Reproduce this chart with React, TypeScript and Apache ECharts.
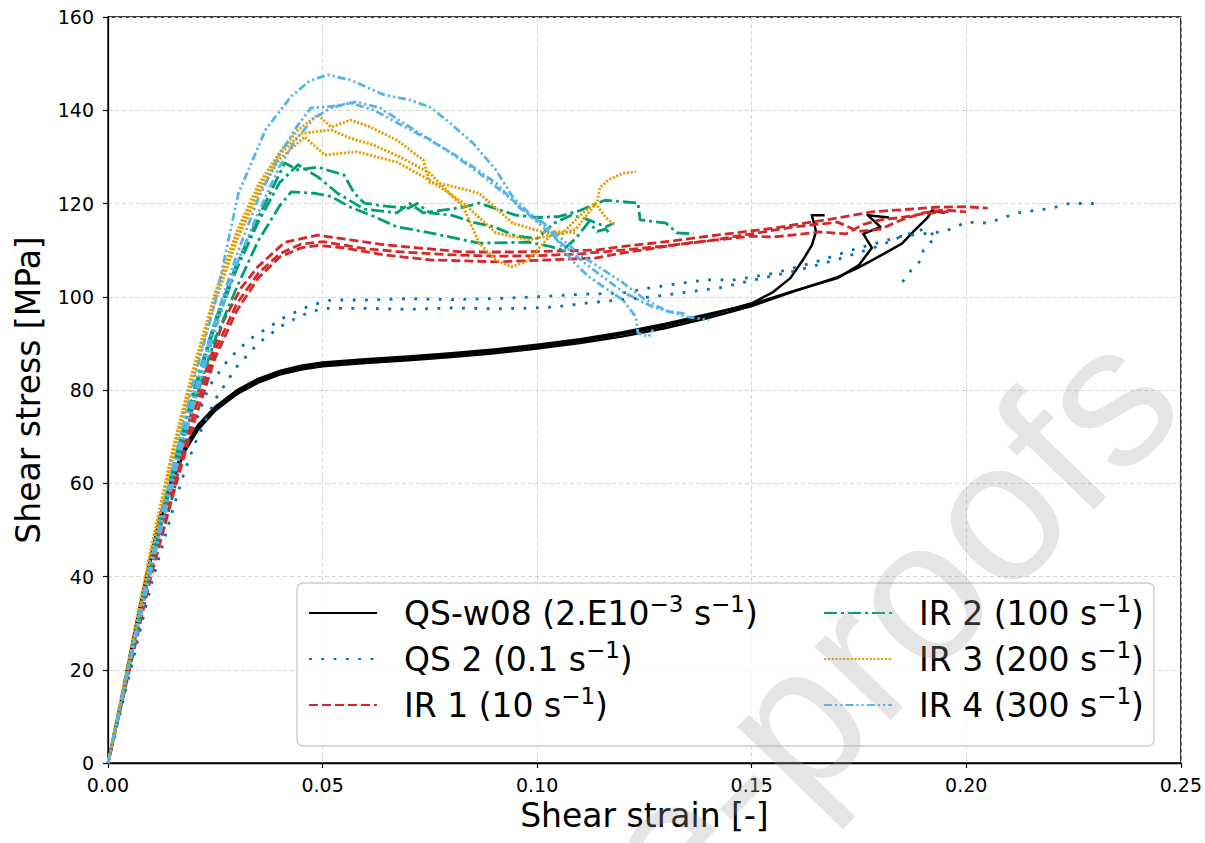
import React, { useEffect, useRef } from "react";
import * as echarts from "echarts";

// ---------- data ----------
const xTicks = [0, 0.05, 0.1, 0.15, 0.2, 0.25];
const yTicks = [0, 20, 40, 60, 80, 100, 120, 140, 160];

const NAME_QSW08 = "QS-w08 (2.E10^-3 s^-1)";
const NAME_QS2 = "QS 2 (0.1 s^-1)";
const NAME_IR1 = "IR 1 (10 s^-1)";
const NAME_IR2 = "IR 2 (100 s^-1)";
const NAME_IR3 = "IR 3 (200 s^-1)";
const NAME_IR4 = "IR 4 (300 s^-1)";

// QS-w08 (black, solid)
const qsW08_a = [[0,0],[0.003,13],[0.006,27],[0.009,40],[0.012,52],[0.015,61],[0.018,67.5],[0.021,72],[0.025,76],[0.03,79.5],[0.035,82],[0.04,83.7],[0.045,84.8],[0.05,85.5],[0.06,86.2],[0.07,86.8],[0.08,87.5],[0.09,88.3],[0.1,89.3],[0.11,90.5],[0.12,92],[0.13,93.8],[0.14,96],[0.15,98.6],[0.155,101],[0.159,104],[0.162,108],[0.164,111],[0.165,114],[0.164,117.5],[0.167,117.5]];
const qsW08_b = [[0,0],[0.003,12.8],[0.006,26.6],[0.009,39.5],[0.012,51.4],[0.015,60.5],[0.018,67],[0.021,71.5],[0.025,75.6],[0.03,79.1],[0.035,81.6],[0.04,83.3],[0.045,84.4],[0.05,85.1],[0.06,85.8],[0.07,86.4],[0.08,87.1],[0.09,87.9],[0.1,88.9],[0.11,90.1],[0.12,91.5],[0.13,93.3],[0.14,95.5],[0.15,98],[0.16,101.2],[0.17,104.2],[0.175,106.3],[0.18,108.8],[0.185,111.4],[0.188,114.3],[0.191,117],[0.192,118.5],[0.195,118]];
const qsW08_c = [[0,0],[0.003,13.2],[0.006,27.3],[0.009,40.5],[0.012,52.5],[0.015,61.5],[0.018,68],[0.021,72.5],[0.025,76.4],[0.03,79.9],[0.035,82.4],[0.04,84.1],[0.045,85.2],[0.05,85.9],[0.06,86.6],[0.07,87.2],[0.08,87.9],[0.09,88.7],[0.1,89.7],[0.11,90.9],[0.12,92.4],[0.13,94.2],[0.14,96.3],[0.15,98.4],[0.16,101.3],[0.17,104],[0.175,106.8],[0.178,110.5],[0.176,113.5],[0.18,115],[0.177,117.5],[0.182,117]];

// QS 2 (blue, dotted)
const qs2_a = [[0,0],[0.005,20],[0.01,40],[0.015,57],[0.0173,66],[0.02,72],[0.0235,80.7],[0.028,86.5],[0.0327,90.7],[0.0413,95.7],[0.0473,98.2],[0.052,99.3],[0.06,99.3],[0.07,99.6],[0.08,99.4],[0.09,99.6],[0.1,100],[0.11,100.5],[0.12,100.8],[0.127,102],[0.139,103.6],[0.146,103.6],[0.155,105],[0.165,107.5],[0.175,110.5],[0.185,113],[0.195,114],[0.2,116],[0.205,115.8],[0.212,118],[0.22,119],[0.224,120],[0.23,120]];
const qs2_b = [[0,0],[0.005,19],[0.01,38],[0.015,54],[0.0173,61],[0.02,68],[0.025,78],[0.03,85],[0.035,90],[0.04,93.5],[0.045,96],[0.05,97.5],[0.06,97.5],[0.07,97.3],[0.08,97.6],[0.09,97.4],[0.1,97.6],[0.104,97.8],[0.112,98.7],[0.127,100],[0.143,102],[0.15,103.5],[0.16,105.5],[0.17,108],[0.18,111],[0.185,113],[0.19,114.5],[0.193,113],[0.19,110],[0.1896,108],[0.187,105.5],[0.185,103]];

// IR 1 (red, dashed)
const ir1_a = [[0,0],[0.005,21],[0.01,42],[0.015,60],[0.02,77],[0.0235,86],[0.027,95],[0.0311,102],[0.035,106.5],[0.0412,111.7],[0.0489,113.2],[0.0565,112.2],[0.064,111.2],[0.072,110.5],[0.0828,109.6],[0.095,109.6],[0.1135,110],[0.12,110.8],[0.13,111.8],[0.14,113],[0.155,114.7],[0.17,116.9],[0.178,118.2],[0.193,119.2],[0.2,119.3],[0.205,119]];
const ir1_b = [[0,0],[0.005,20],[0.01,40],[0.015,57],[0.02,73],[0.025,87],[0.03,97],[0.035,104],[0.04,108.5],[0.045,110.5],[0.0489,111],[0.055,110.5],[0.0643,109],[0.075,107.9],[0.0904,107.5],[0.1,107.8],[0.1135,108.3],[0.12,109.4],[0.135,111.5],[0.15,113],[0.155,112.8],[0.166,113.9],[0.172,113.5],[0.176,115.5],[0.18,116.5],[0.185,117],[0.19,117.8],[0.196,118.3]];
const ir1_c = [[0,0],[0.005,20.5],[0.01,41],[0.015,58.5],[0.02,75],[0.025,88.5],[0.03,98.5],[0.035,105],[0.04,109.2],[0.045,111.3],[0.05,111.8],[0.06,110.3],[0.07,109.5],[0.08,109],[0.09,108.7],[0.1,108.8],[0.11,109.2],[0.12,110],[0.13,110.9],[0.14,112],[0.15,113.5],[0.16,115],[0.17,116],[0.175,114],[0.18,114.5],[0.185,116.5],[0.19,118],[0.195,118.6],[0.2,118.2]];

// IR 2 (green, dash-dot)
const ir2_a = [[0,0],[0.005,22],[0.01,44],[0.015,63],[0.02,80],[0.025,95],[0.03,107],[0.035,117],[0.0412,128.7],[0.0443,127.2],[0.0489,127.8],[0.055,126.1],[0.0574,122.2],[0.0597,120.1],[0.064,119.5],[0.07,119],[0.072,120],[0.075,118],[0.08,117.5],[0.085,116],[0.09,115],[0.095,113],[0.1,112.5],[0.104,115.8],[0.108,117.5],[0.112,116.5],[0.116,115],[0.118,115.8]];
const ir2_b = [[0,0],[0.005,21.5],[0.01,43],[0.015,62],[0.02,79],[0.025,94],[0.03,106],[0.035,116],[0.04,124.5],[0.0443,128.3],[0.0489,125.7],[0.0535,122.2],[0.0597,118.8],[0.0673,118],[0.0703,120],[0.0735,118],[0.0828,119.2],[0.0865,120.1],[0.09,119],[0.095,117.5],[0.1,117],[0.105,117.2],[0.11,118.5],[0.1158,120.7],[0.1235,120.1],[0.124,116.5],[0.13,115.8],[0.1326,113.7],[0.1365,113.5]];
const ir2_c = [[0,0],[0.005,21],[0.01,42],[0.015,61],[0.02,77],[0.025,91],[0.03,102],[0.035,112],[0.04,119.5],[0.0427,122.5],[0.048,122.2],[0.052,121.5],[0.0565,119.2],[0.062,117.2],[0.0673,115],[0.075,113.7],[0.0865,111.5],[0.098,111.7],[0.103,110.8],[0.106,110],[0.109,112.5],[0.112,116],[0.114,114],[0.116,114.5],[0.117,113.5]];

// IR 3 (orange, dense dots)
const ir3_a = [[0,0],[0.005,23],[0.01,46],[0.015,67],[0.02,85],[0.025,101],[0.03,114],[0.035,124],[0.04,131],[0.0443,135.8],[0.0489,139],[0.052,136.4],[0.0565,137.9],[0.0611,136.4],[0.0673,133.6],[0.0735,129.3],[0.075,124.4],[0.0789,124],[0.0865,122.2],[0.0943,115.8],[0.102,113.7],[0.106,113.5],[0.109,114.5],[0.112,118],[0.114,120.3],[0.1146,123.3],[0.1165,125],[0.12,126.5],[0.123,126.8]];
const ir3_b = [[0,0],[0.005,22.5],[0.01,45],[0.015,66],[0.02,84],[0.025,100],[0.03,113],[0.035,123],[0.04,130.5],[0.045,135],[0.052,135.8],[0.0565,134],[0.062,132.5],[0.068,130],[0.075,126.5],[0.0828,119.2],[0.0865,111.5],[0.0904,107.9],[0.094,106.4],[0.0973,107.5],[0.1,110],[0.104,114],[0.109,113.7]];
const ir3_c = [[0,0],[0.005,22],[0.01,44.5],[0.015,65],[0.02,83],[0.025,99],[0.03,112],[0.035,122],[0.04,129.5],[0.0458,134.3],[0.0505,130.4],[0.058,131.1],[0.0673,128.9],[0.075,125],[0.0828,120.1],[0.0904,113.7],[0.098,112.2],[0.106,113.7],[0.1095,117],[0.1135,120.1],[0.116,117],[0.118,115.5]];

// IR 4 (sky blue, dash-dot-dot)
const ir4_a = [[0,0],[0.005,22],[0.01,43],[0.015,63],[0.02,82],[0.025,99],[0.0304,122.2],[0.0367,135.8],[0.0427,143],[0.047,146.3],[0.0512,147.6],[0.0565,146.5],[0.0643,143.3],[0.0703,142.2],[0.075,140.7],[0.0789,137.9],[0.085,133],[0.0904,127.2],[0.0943,121.4],[0.098,118],[0.102,115.5],[0.108,107.9],[0.112,104.3],[0.12,99.3],[0.123,95.7],[0.1235,92.2],[0.126,91.4],[0.127,92.9]];
const ir4_b = [[0,0],[0.005,21],[0.01,42],[0.015,61],[0.02,79],[0.025,95],[0.03,109],[0.035,121],[0.04,130.5],[0.044,136.5],[0.0473,140.5],[0.052,140.8],[0.058,141.8],[0.0634,140.5],[0.0703,136.4],[0.0789,131.5],[0.0865,126.5],[0.0943,120.7],[0.1,116],[0.105,112],[0.11,108],[0.115,104.5],[0.12,101],[0.127,97.8],[0.135,95.7],[0.14,95]];
const ir4_c = [[0,0],[0.005,21],[0.01,41],[0.015,60],[0.02,77],[0.025,93],[0.03,107],[0.035,118],[0.04,128],[0.044,134],[0.048,138.3],[0.052,140.5],[0.0565,141.6],[0.062,140],[0.068,137],[0.075,133.6],[0.0828,129.3],[0.0904,124.4],[0.096,119],[0.1,116.5],[0.105,113],[0.11,109],[0.115,106],[0.12,103],[0.125,99.5],[0.13,97],[0.135,96.3]];

// ---------- styling ----------
const FONT = '"DejaVu Sans", sans-serif';

const groups = [
  { name: NAME_QSW08, color: "#000000", width: 2.5, dash: "solid" as any, curves: [qsW08_a, qsW08_b, qsW08_c] },
  { name: NAME_QS2, color: "#0072B2", width: 2.8, dash: [2.8, 9.5], curves: [qs2_a, qs2_b] },
  { name: NAME_IR1, color: "#D62728", width: 2.8, dash: [9, 4], curves: [ir1_a, ir1_b, ir1_c] },
  { name: NAME_IR2, color: "#009E73", width: 2.8, dash: [13, 4, 3, 4], curves: [ir2_a, ir2_b, ir2_c] },
  { name: NAME_IR3, color: "#E69F00", width: 2.8, dash: [2.2, 1.6], curves: [ir3_a, ir3_b, ir3_c] },
  { name: NAME_IR4, color: "#56B4E9", width: 2.8, dash: [8, 3, 2.2, 3, 2.2, 3], curves: [ir4_a, ir4_b, ir4_c] },
];

const legendRich: Record<string, string> = {
  [NAME_QSW08]: "{n|QS-w08 (2.E10}{s|\u22123}{n| s}{s|\u22121}{n|)}",
  [NAME_QS2]: "{n|QS 2 (0.1 s}{s|\u22121}{n|)}",
  [NAME_IR1]: "{n|IR 1 (10 s}{s|\u22121}{n|)}",
  [NAME_IR2]: "{n|IR 2 (100 s}{s|\u22121}{n|)}",
  [NAME_IR3]: "{n|IR 3 (200 s}{s|\u22121}{n|)}",
  [NAME_IR4]: "{n|IR 4 (300 s}{s|\u22121}{n|)}",
};

const legendTextStyle = {
  padding: [0, 0, 0, 22],
  rich: {
    n: { fontSize: 33, fontFamily: FONT, color: "#000", lineHeight: 42 },
    s: { fontSize: 23, fontFamily: FONT, color: "#000", lineHeight: 24, verticalAlign: "top" },
  },
};

function makeLegend(left: number, names: string[]) {
  return {
    show: true,
    orient: "vertical",
    left,
    top: 592,
    padding: 0,
    itemWidth: 68,
    itemHeight: 14,
    itemGap: 8.5,
    selectedMode: false,
    data: names,
    itemStyle: { color: "rgba(0,0,0,0)", borderWidth: 0, opacity: 0 },
    formatter: (name: string) => legendRich[name] ?? name,
    textStyle: legendTextStyle,
  };
}

export default function App() {
  const ref = useRef<HTMLDivElement>(null);

  useEffect(() => {
    if (!ref.current) return;
    const chart = echarts.init(ref.current, null, { renderer: "svg" });

    const series: any[] = [];
    groups.forEach((g, gi) => {
      g.curves.forEach((c) => {
        series.push({
          type: "line",
          name: g.name,
          data: c,
          symbol: "none",
          showSymbol: false,
          silent: true,
          z: 2 + gi * 0.01,
          lineStyle: { color: g.color, width: g.width, type: g.dash, cap: "butt", join: "round" },
          itemStyle: { color: g.color },
        });
      });
    });

    chart.setOption({
      animation: false,
      backgroundColor: "#ffffff",
      grid: {
        left: 108,
        right: 13,
        top: 17,
        bottom: 80,
        show: true,
        borderColor: "#000",
        borderWidth: 1.3,
        backgroundColor: "transparent",
      },
      xAxis: {
        type: "value",
        min: xTicks[0],
        max: xTicks[xTicks.length - 1],
        interval: 0.05,
        name: "Shear strain [-]",
        nameLocation: "middle",
        nameGap: 35,
        nameTextStyle: { fontSize: 33, fontFamily: FONT, color: "#000" },
        axisLine: { show: true, onZero: false, lineStyle: { color: "#000", width: 1.3 } },
        axisTick: { show: true, inside: false, length: 5, lineStyle: { color: "#000", width: 1.2 } },
        axisLabel: {
          margin: 12,
          fontSize: 19,
          fontFamily: FONT,
          color: "#000",
          formatter: (v: number) => v.toFixed(2),
        },
        splitLine: { show: true, lineStyle: { color: "#d4d4d4", width: 1, type: [4, 3] } },
      },
      yAxis: {
        type: "value",
        min: yTicks[0],
        max: yTicks[yTicks.length - 1],
        interval: 20,
        name: "Shear stress [MPa]",
        nameLocation: "middle",
        nameGap: 63,
        nameTextStyle: { fontSize: 33, fontFamily: FONT, color: "#000" },
        axisLine: { show: true, onZero: false, lineStyle: { color: "#000", width: 1.3 } },
        axisTick: { show: true, inside: false, length: 5, lineStyle: { color: "#000", width: 1.2 } },
        axisLabel: { margin: 14, fontSize: 19, fontFamily: FONT, color: "#000" },
        splitLine: { show: true, lineStyle: { color: "#d4d4d4", width: 1, type: [4, 3] } },
      },
      legend: [
        makeLegend(308, [NAME_QSW08, NAME_QS2, NAME_IR1]),
        makeLegend(823, [NAME_IR2, NAME_IR3, NAME_IR4]),
      ],
      graphic: [
        {
          type: "rect",
          z: 3,
          shape: { x: 297, y: 583, width: 857, height: 163, r: 6 },
          style: { fill: "rgba(255,255,255,0.8)", stroke: "#cccccc", lineWidth: 1.3 },
          silent: true,
        },
        {
          type: "text",
          z: 100,
          x: 1140,
          y: 362,
          rotation: (46 * Math.PI) / 180,
          silent: true,
          style: {
            text: "Journal Pre-proofs",
            fontSize: 200,
            fontFamily: '"Liberation Sans", Arial, sans-serif',
            fill: "rgba(160,160,160,0.28)",
            align: "right",
            verticalAlign: "middle",
          },
        },
      ],
      series,
    });

    return () => chart.dispose();
  }, []);

  return (
    <div
      ref={ref}
      style={{ position: "fixed", left: 0, top: 0, width: 1205, height: 843, background: "#fff" }}
    />
  );
}
